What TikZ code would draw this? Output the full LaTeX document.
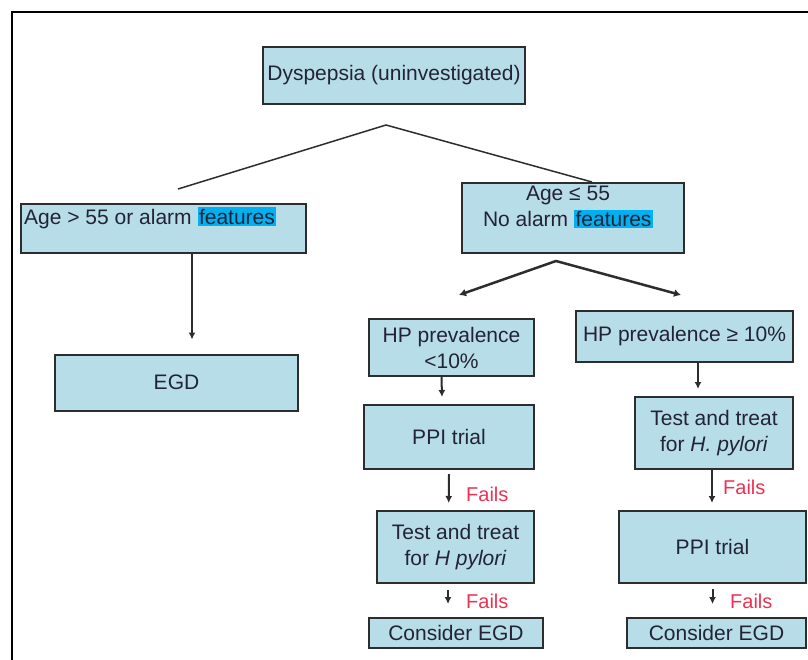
\documentclass[tikz,border=0pt]{standalone}
\usepackage{fontspec}
\setmainfont{Liberation Sans}
\usepackage{tikz}
\usetikzlibrary{arrows.meta}
\definecolor{boxblue}{RGB}{183,221,232}
\definecolor{hilite}{RGB}{0,176,240}
\definecolor{failred}{RGB}{236,50,84}
\definecolor{edge}{RGB}{45,45,45}
\definecolor{ink}{RGB}{35,35,55}
\newcommand{\hlword}[1]{{\setlength{\fboxsep}{1.5pt}\colorbox{hilite}{#1}}}

\begin{document}
\begin{tikzpicture}[x=1pt,y=-1pt,
  box/.style={draw=edge,line width=2pt,fill=boxblue,inner sep=0pt,align=center,text=ink,font=\fontsize{21}{26}\selectfont},
  lbl/.style={inner sep=0pt,align=center,text=ink,font=\fontsize{21}{26}\selectfont},
  arr/.style={draw=edge,line width=2pt,-{Latex[length=7pt,width=7pt]}},
  fails/.style={text=failred,inner sep=0pt,anchor=west,font=\fontsize{20}{24}\selectfont}]
\useasboundingbox (0,0) rectangle (808,659);
\draw[line width=2pt] (830,12) -- (12,12) -- (12,680);
\node[box,minimum width=262pt,minimum height=57pt] (dys) at (394,75.5) {Dyspepsia (uninvestigated)};
\node[box,minimum width=285pt,minimum height=49pt] (old) at (163.5,228.5) {};
\node[lbl,anchor=west] (oldtxt) at (24,218) {Age > 55 or alarm \hlword{features}};
\node[box,minimum width=222pt,minimum height=70pt] (young) at (573,218) {};
\node[lbl] (youngtxt) at (568,207) {Age ≤ 55\\No alarm \hlword{features}};
\node[box,minimum width=243pt,minimum height=56pt] (egd) at (176.5,382.5) {EGD};
\node[box,minimum width=165pt,minimum height=57pt] (hplo) at (451.5,347.5) {HP prevalence\\<10\%};
\node[box,minimum width=217pt,minimum height=51pt] (hphi) at (684.5,336.5) {HP prevalence ≥ 10\%};
\node[box,minimum width=170pt,minimum height=64pt] (ppil) at (449,437) {PPI trial};
\node[box,minimum width=158pt,minimum height=72pt] (ttr) at (714,433) {Test and treat\\for \textit{H. pylori}};
\node[box,minimum width=157pt,minimum height=72pt] (ttl) at (455.5,547) {Test and treat\\for \textit{H pylori}};
\node[box,minimum width=187pt,minimum height=72pt] (ppir) at (712.5,547) {PPI trial};
\node[box,minimum width=174pt,minimum height=30pt] (egdl) at (456,633) {Consider EGD};
\node[box,minimum width=179pt,minimum height=30pt] (egdr) at (716.5,633) {Consider EGD};
% split under the first box
\coordinate (top) at (386,125);
\draw[draw=edge,line width=1.5pt] ([xshift=14.5pt,yshift=14pt]old.north) -- (top) -- ([xshift=19pt]young.north);
\draw[arr] ([xshift=28.5pt]old.south) -- ([xshift=15.5pt,yshift=14pt]egd.north);
% split under age <= 55
\coordinate (fork) at (556,261);
\draw[draw=edge,line width=2.5pt,{Latex[length=7pt,width=8pt]}-{Latex[length=7pt,width=8pt]}] ([xshift=7.5pt,yshift=23pt]hplo.north) -- (fork) -- ([xshift=-3.5pt,yshift=15pt]hphi.north);
\draw[arr] ([xshift=-10pt]hplo.south) -- ([xshift=-7pt,yshift=7pt]ppil.north);
\draw[arr] ([xshift=13.5pt]hphi.south) -- ([xshift=-16pt,yshift=7pt]ttr.north);
\draw[arr] ([yshift=-4pt]ppil.south) -- ([xshift=-6.8pt,yshift=7pt]ttl.north);
\draw[arr] ([xshift=-2pt]ttr.south) -- ([xshift=-0.5pt,yshift=7pt]ppir.north);
\draw[arr] ([xshift=-7.5pt,yshift=-6pt]ttl.south) -- ([xshift=-8pt,yshift=13pt]egdl.north);
\draw[arr] ([yshift=-5pt]ppir.south) -- ([xshift=-4pt,yshift=13pt]egdr.north);
\node[fails] (fail1) at (466,494) {Fails};
\node[fails] (fail2) at (723,487) {Fails};
\node[fails] (fail3) at (466,601) {Fails};
\node[fails] (fail4) at (730,601) {Fails};
\end{tikzpicture}
\end{document}
